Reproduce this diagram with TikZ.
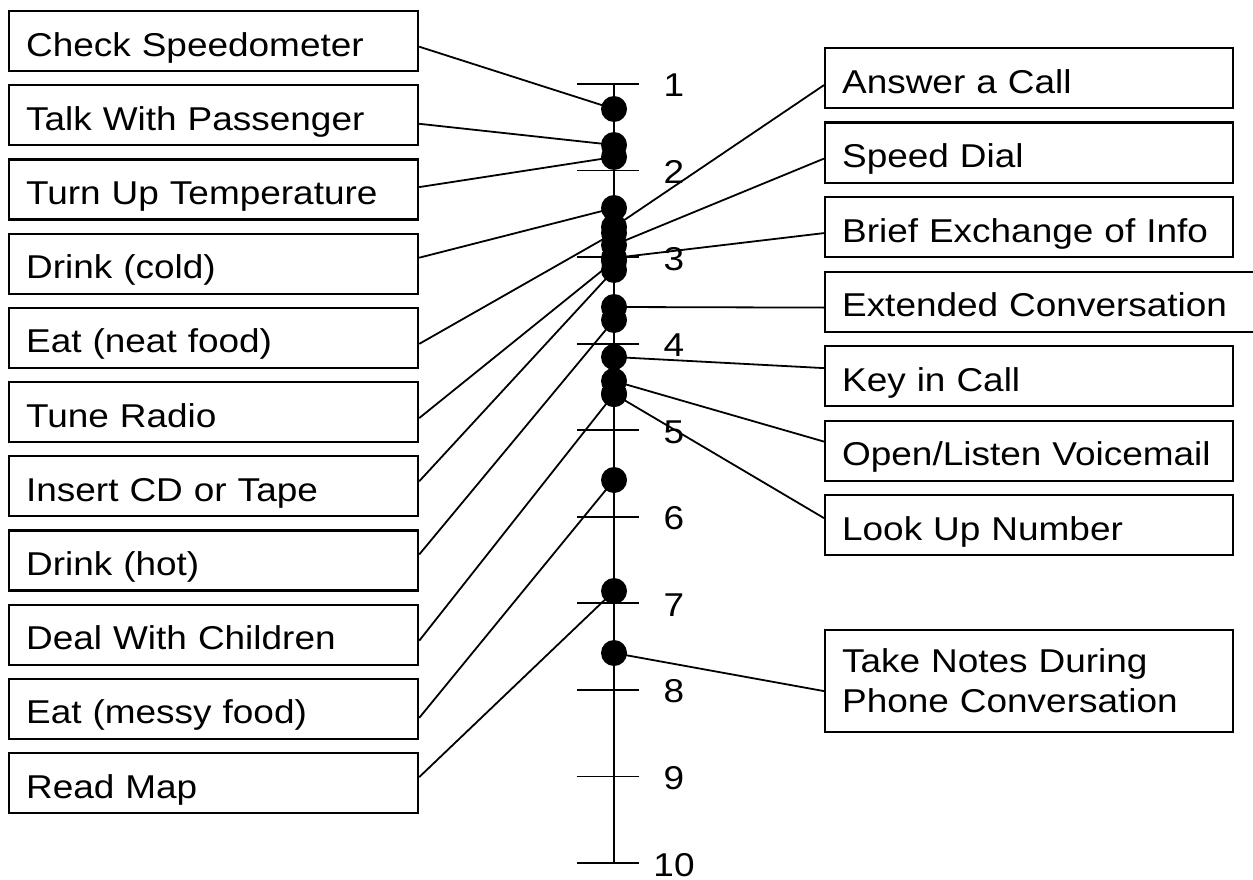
\documentclass[tikz,border=0pt]{standalone}
\usepackage{fontspec}
\setmainfont{Liberation Sans}[FakeStretch=1.12]
\tikzset{
  box/.style={draw, line width=2.2pt, inner xsep=17pt, inner ysep=0pt, align=left,
    anchor=north west, font=\fontsize{33}{40}\selectfont, minimum height=60pt},
  oneline/.style={text height=30pt, text depth=0pt},
  lbox/.style={box, oneline, text width=375pt},
  rbox/.style={box, oneline, text width=374pt},
  dot/.style={circle, fill=black, minimum size=26pt, inner sep=0pt},
  conn/.style={line width=1.8pt},
  axisline/.style={line width=1.8pt},
  num/.style={anchor=base, inner sep=0pt, font=\fontsize{33}{40}\selectfont}
}
\begin{document}
\begin{tikzpicture}[x=1pt,y=-1pt]
\useasboundingbox (0,0) rectangle (1253,880);
\clip (0,0) rectangle (1253,880);
% axis
\draw[axisline] (614,84) -- (614,863);
\foreach \k in {1,...,10} {
  \pgfmathsetmacro\yy{84+86.556*(\k-1)}
  \draw[axisline] (577,\yy) -- (639,\yy);
  \node[num] (n\k) at (674,\yy+13) {\k};
}
% left boxes
\node[lbox] (cs) at (8,10) {Check Speedometer};
\node[lbox] (tp) at (8,84.2) {Talk With Passenger};
\node[lbox] (tt) at (8,158.4) {Turn Up Temperature};
\node[lbox] (dc) at (8,232.6) {Drink (cold)};
\node[lbox] (en) at (8,306.8) {Eat (neat food)};
\node[lbox] (tr) at (8,381) {Tune Radio};
\node[lbox] (ic) at (8,455.2) {Insert CD or Tape};
\node[lbox] (dh) at (8,529.4) {Drink (hot)};
\node[lbox] (dw) at (8,603.6) {Deal With Children};
\node[lbox] (em) at (8,677.8) {Eat (messy food)};
\node[lbox] (rm) at (8,752) {Read Map};
% right boxes
\node[rbox] (ac) at (824,47) {Answer a Call};
\node[rbox] (sd) at (824,121.5) {Speed Dial};
\node[rbox] (be) at (824,196) {Brief Exchange of Info};
\node[rbox, text width=450pt] (ec) at (824,270.5) {Extended Conversation};
\node[rbox] (kc) at (824,345) {Key in Call};
\node[rbox] (ol) at (824,419.5) {Open/Listen Voicemail};
\node[rbox] (lu) at (824,494) {Look Up Number};
\node[box, text width=374pt, minimum height=102pt] (tn) at (824,629) {Take Notes During\\Phone Conversation};
% dots
\node[dot] (dcs) at (614,109) {};
\node[dot] (dtp) at (614,145) {};
\node[dot] (dtt) at (614,157) {};
\node[dot] (ddc) at (614,208) {};
\node[dot] (dac) at (614,227) {};
\node[dot] (den) at (614,233) {};
\node[dot] (dsd) at (614,245) {};
\node[dot] (dbe) at (614,258) {};
\node[dot] (dtr) at (614,261) {};
\node[dot] (dic) at (614,270) {};
\node[dot] (dec) at (614,307) {};
\node[dot] (ddh) at (614,320) {};
\node[dot] (dkc) at (614,357) {};
\node[dot] (dol) at (614,381) {};
\node[dot] (dlu) at (614,394) {};
\node[dot] (ddw) at (614,394) {};
\node[dot] (dem) at (614,480) {};
\node[dot] (drm) at (614,591) {};
\node[dot] (dtn) at (614,653) {};
% connectors left
\draw[conn] ([yshift=-5.6pt]cs.east) -- (dcs.center);
\draw[conn] ([yshift=-8.5pt]tp.east) -- (dtp.center);
\draw[conn] ([yshift=2.4pt]tt.east) -- (dtt.center);
\draw[conn] ([yshift=6pt]dc.east) -- (ddc.center);
\draw[conn] ([yshift=-6pt]en.east) -- (den.center);
\draw[conn] ([yshift=-6pt]tr.east) -- (dtr.center);
\draw[conn] ([yshift=5pt]ic.east) -- (dic.center);
\draw[conn] ([yshift=6pt]dh.east) -- (ddh.center);
\draw[conn] ([yshift=-6pt]dw.east) -- (ddw.center);
\draw[conn] ([yshift=-9pt]em.east) -- (dem.center);
\draw[conn] ([yshift=6pt]rm.east) -- (drm.center);
% connectors right
\draw[conn] ([yshift=-7pt]ac.west) -- (dac.center);
\draw[conn] ([yshift=-6pt]sd.west) -- (dsd.center);
\draw[conn] ([yshift=-6pt]be.west) -- (dbe.center);
\draw[conn] ([yshift=-6pt]ec.west) -- (dec.center);
\draw[conn] ([yshift=8pt]kc.west) -- (dkc.center);
\draw[conn] ([yshift=9pt]ol.west) -- (dol.center);
\draw[conn] ([yshift=7pt]lu.west) -- (dlu.center);
\draw[conn] ([yshift=-10pt]tn.west) -- (dtn.center);
\end{tikzpicture}
\end{document}
